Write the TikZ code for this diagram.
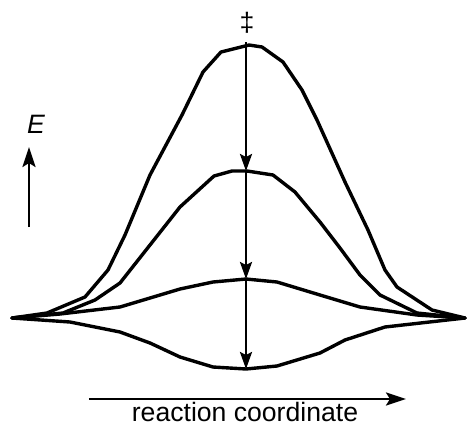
\documentclass[tikz,border=0pt]{standalone}
\usepackage{fontspec}
\setmainfont{Liberation Sans}
\usetikzlibrary{arrows.meta}
\tikzset{
  curve/.style={line width=1.7pt, line join=round, line cap=round},
  vtip/.style={line width=1.25pt, -{Stealth[length=8.5pt,width=6pt,inset=1.5pt]}},
  axis/.style={line width=1.25pt, -{Stealth[length=10pt,width=6.5pt,inset=2pt]}},
  lbl/.style={inner sep=0pt, font=\fontsize{13.3}{16}\selectfont}
}
\begin{document}
\begin{tikzpicture}[x=0.5pt, y=-0.5pt]
\useasboundingbox (0,0) rectangle (468,425);
% curves
\draw[curve] (12,318) -- (47,313) -- (85,297) -- (108,270) -- (125,235) -- (150,175) -- (182,115) -- (203,72) -- (221,52) -- (249,45) -- (262,47) -- (283,62) -- (302,90) -- (317,120) -- (345,182) -- (368,230) -- (385,270) -- (397,287) -- (432,310) -- (465,318);
\draw[curve] (12,318) -- (63,313) -- (95,300) -- (120,283) -- (150,245) -- (180,207) -- (214,176) -- (232,171) -- (247,171) -- (273,175) -- (295,192) -- (320,222) -- (340,248) -- (360,275) -- (380,295) -- (417,313) -- (465,318);
\draw[curve] (12,318) -- (60,314) -- (120,307) -- (180,289) -- (213,282) -- (246,279) -- (277,282) -- (320,295) -- (360,307) -- (417,315) -- (465,318);
\draw[curve] (12,318) -- (70,322) -- (120,332) -- (150,343) -- (180,357) -- (213,367) -- (246,369) -- (277,366) -- (320,353) -- (345,340) -- (385,327) -- (465,318);
% vertical arrows
\coordinate (ts) at (246,42);
\coordinate (p2) at (246,171);
\coordinate (p3) at (246,279);
\coordinate (p4) at (246,369);
\draw[vtip] (ts) -- (p2);
\draw[vtip] (p2) -- (p3);
\draw[vtip] (p3) -- (p4);
% labels
\node[lbl] (dd) at (247,23) {‡};
\node[lbl, anchor=base] (E) at (36,133) {\itshape E};
\coordinate (ea) at (29,227);
\coordinate (eb) at (29,147);
\draw[axis] (ea) -- (eb);
\coordinate (ra) at (89,399);
\coordinate (rb) at (406,399);
\draw[axis] (ra) -- (rb);
\node[lbl, anchor=base] (rc) at (245,421) {reaction coordinate};
\end{tikzpicture}
\end{document}
